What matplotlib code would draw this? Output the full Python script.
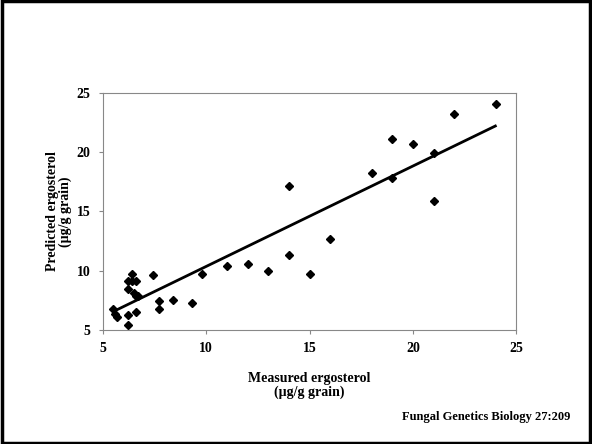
import matplotlib
matplotlib.use("Agg")
import matplotlib.pyplot as plt
from matplotlib.patches import Rectangle

# measured vs predicted ergosterol (ug/g grain)
measured = [5.5, 5.6, 5.7, 6.2, 6.2, 6.2, 6.2, 6.4, 6.4, 6.6, 6.5, 6.6, 6.7, 6.6,
            7.4, 7.7, 7.7, 8.4, 9.3, 9.8, 11, 12, 13, 14, 14, 15, 16, 18, 19, 19,
            20, 21, 21, 22, 24]
predicted = [6.75, 6.35, 6.1, 9.15, 8.45, 6.25, 5.45, 9.75, 9.15, 9.15, 8.1, 7.85, 7.85, 6.5,
             9.6, 7.4, 6.75, 7.55, 7.25, 9.75, 10.35, 10.6, 9.95, 11.3, 17.15, 9.75, 12.65,
             18.25, 21.1, 17.85, 20.7, 19.9, 15.9, 23.2, 24.05]
fit_x = [5.5, 24.05]
fit_y = [6.55, 22.25]

xticks = [5, 10, 15, 20, 25]
yticks = [5, 10, 15, 20, 25]

plt.rcParams['font.family'] = ['Liberation Serif', 'DejaVu Serif']
plt.rcParams['font.weight'] = 'bold'

fig = plt.figure(figsize=(5.92, 4.44), dpi=100)
ax = fig.add_axes([0.174, 0.257, 0.698, 0.534])

ax.plot(fit_x, fit_y, color='black', linewidth=2.0, solid_capstyle='butt')
ax.plot(measured, predicted, linestyle='none', marker='D', markersize=4.5,
        color='black')

ax.set_xlim(5, 25)
ax.set_ylim(5, 25)
ax.set_xticks(xticks)
ax.set_yticks(yticks)
ax.tick_params(direction='out', length=3, width=0.8, color='#888888',
               labelsize=10, pad=6)
for lab in ax.get_xticklabels() + ax.get_yticklabels():
    lab.set_fontweight('bold')
for s in ax.spines.values():
    s.set_color('#888888')
    s.set_linewidth(0.8)

ax.set_xlabel('Measured ergosterol\n(\u00b5g/g grain)', fontsize=10,
              fontweight='bold', labelpad=12, linespacing=1.0)
ax.set_ylabel('Predicted ergosterol\n(\u00b5g/g grain)', fontsize=10,
              fontweight='bold', labelpad=3, linespacing=1.0)

fig.text(0.963, 0.061, 'Fungal Genetics Biology 27:209', ha='right', va='center',
         fontsize=9, fontweight='bold')

fig.patches.append(Rectangle((0.003, 0.003), 0.994, 0.994, transform=fig.transFigure,
                             fill=False, edgecolor='black', linewidth=2.5))

fig.savefig('out.png', dpi=100)
